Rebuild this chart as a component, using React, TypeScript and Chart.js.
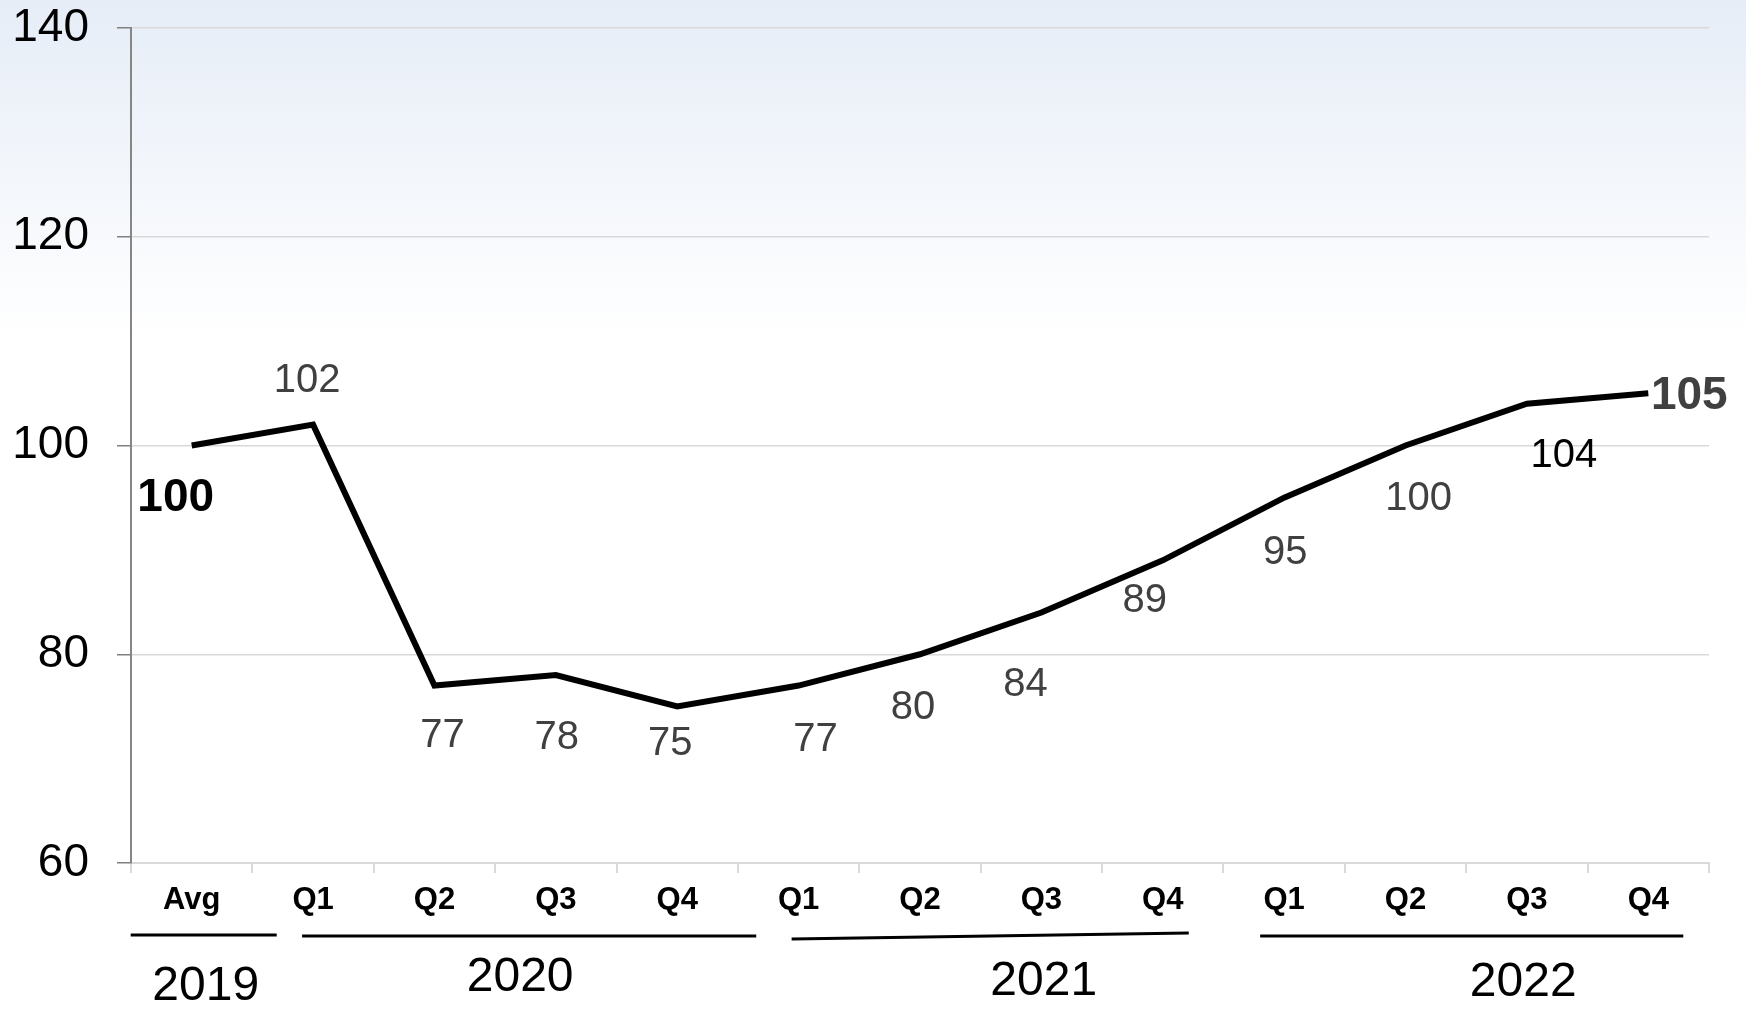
import React, { useEffect, useRef } from 'react';
import { Chart, registerables } from 'chart.js';

Chart.register(...registerables);

// ---- data ----
const categories = ['Avg', 'Q1', 'Q2', 'Q3', 'Q4', 'Q1', 'Q2', 'Q3', 'Q4', 'Q1', 'Q2', 'Q3', 'Q4'];
const values = [100, 102, 77, 78, 75, 77, 80, 84, 89, 95, 100, 104, 105];
const years = ['2019', '2020', '2021', '2022'];
const yearFirstIndex = [0, 1, 5, 9];
const yearLastIndex = [0, 4, 8, 12];
const yTickMin = 60;
const yTickMax = 140;
const yTickStep = 20;

// ---- styling (label placement relative to points, in px) ----
const labelDx = [-16, -6, 8, 1, -7, 17, -7, -16, -18, 1, 13, 37, 41];
const labelDy = [53, -44, 50, 63, 38, 54, 54, 72, 41, 55, 53, 52, 3];
const labelBold = [true, false, false, false, false, false, false, false, false, false, false, false, true];
const labelColor = ['#000000', '#404040', '#404040', '#404040', '#404040', '#404040', '#404040', '#404040', '#404040', '#404040', '#404040', '#000000', '#404040'];
const yearLineFrom = [-61, -11, -7, -24];
const yearLineTo = [85, 79, 26, 35];
const yearLineY1 = [72, 73, 76, 73];
const yearLineY2 = [72, 73, 70, 73];
const yearLabelDx = [14, 25, 63, 57];
const yearLabelDy = [124, 115, 119, 120];

const SANS = "'Liberation Sans', Arial, sans-serif";

const backgroundPlugin = {
  id: 'bgGradient',
  beforeDraw(chart: any) {
    const { ctx, width, height } = chart;
    const g = ctx.createLinearGradient(0, 0, 0, 340);
    g.addColorStop(0, '#e6edf7');
    g.addColorStop(1, '#ffffff');
    ctx.save();
    ctx.fillStyle = '#ffffff';
    ctx.fillRect(0, 0, width, height);
    ctx.fillStyle = g;
    ctx.fillRect(0, 0, width, 340);
    ctx.restore();
  },
};

const labelsPlugin = {
  id: 'pointLabels',
  afterDatasetsDraw(chart: any) {
    const { ctx } = chart;
    const meta = chart.getDatasetMeta(0);
    ctx.save();
    ctx.textAlign = 'center';
    ctx.textBaseline = 'middle';
    meta.data.forEach((pt: any, i: number) => {
      ctx.font = labelBold[i] ? `bold 46px ${SANS}` : `40px ${SANS}`;
      ctx.fillStyle = labelColor[i];
      ctx.fillText(String(values[i]), pt.x + labelDx[i], pt.y + labelDy[i]);
    });
    ctx.restore();
  },
};

const yearsPlugin = {
  id: 'yearGroups',
  afterDraw(chart: any) {
    const { ctx, chartArea } = chart;
    const xs = chart.scales.x;
    ctx.save();
    years.forEach((yr, k) => {
      const xa = xs.getPixelForValue(yearFirstIndex[k]);
      const xb = xs.getPixelForValue(yearLastIndex[k]);
      ctx.strokeStyle = '#000000';
      ctx.lineWidth = 3;
      ctx.beginPath();
      ctx.moveTo(xa + yearLineFrom[k], chartArea.bottom + yearLineY1[k]);
      ctx.lineTo(xb + yearLineTo[k], chartArea.bottom + yearLineY2[k]);
      ctx.stroke();
      ctx.font = `48px ${SANS}`;
      ctx.fillStyle = '#000000';
      ctx.textAlign = 'center';
      ctx.textBaseline = 'middle';
      ctx.fillText(yr, (xa + xb) / 2 + yearLabelDx[k], chartArea.bottom + yearLabelDy[k]);
    });
    ctx.restore();
  },
};

export default function App() {
  const ref = useRef<HTMLCanvasElement | null>(null);

  useEffect(() => {
    document.body.style.margin = '0';
    if (!ref.current) return;
    const chart = new Chart(ref.current, {
      type: 'line',
      data: {
        labels: categories,
        datasets: [
          {
            data: values,
            borderColor: '#000000',
            borderWidth: 6,
            pointRadius: 0,
            tension: 0,
            fill: false,
            borderJoinStyle: 'miter',
          },
        ],
      },
      options: {
        responsive: false,
        animation: false,
        devicePixelRatio: 1,
        layout: { padding: { top: 28, right: 37, left: 0, bottom: 0 } },
        plugins: {
          legend: { display: false },
          tooltip: { enabled: false },
        },
        scales: {
          x: {
            type: 'category',
            offset: true,
            grid: {
              offset: true,
              drawOnChartArea: false,
              color: '#d9d9d9',
              tickLength: 10,
              lineWidth: 2,
            },
            border: { color: '#d9d9d9', width: 2 },
            ticks: {
              color: '#000000',
              font: { family: SANS, size: 31, weight: 'bold' },
              padding: 9,
              maxRotation: 0,
              autoSkip: false,
            },
            afterFit(scale: any) {
              scale.height = 146;
              scale.paddingLeft = 0;
              scale.paddingRight = 0;
            },
          },
          y: {
            min: yTickMin,
            max: yTickMax,
            ticks: {
              stepSize: yTickStep,
              color: '#000000',
              font: { family: SANS, size: 46 },
              padding: 28,
            },
            grid: {
              color: '#d9d9d9',
              tickColor: '#808080',
              tickLength: 14,
              lineWidth: 1.5,
            },
            border: { color: '#868686', width: 2 },
            afterFit(scale: any) {
              scale.width = 131;
              scale.paddingTop = 0;
              scale.paddingBottom = 0;
            },
          },
        },
      } as any,
      plugins: [backgroundPlugin, labelsPlugin, yearsPlugin],
    });
    return () => chart.destroy();
  }, []);

  return (
    <div style={{ position: 'absolute', left: 0, top: 0, width: 1746, height: 1009 }}>
      <canvas ref={ref} width={1746} height={1009} style={{ display: 'block', width: 1746, height: 1009 }} />
    </div>
  );
}
